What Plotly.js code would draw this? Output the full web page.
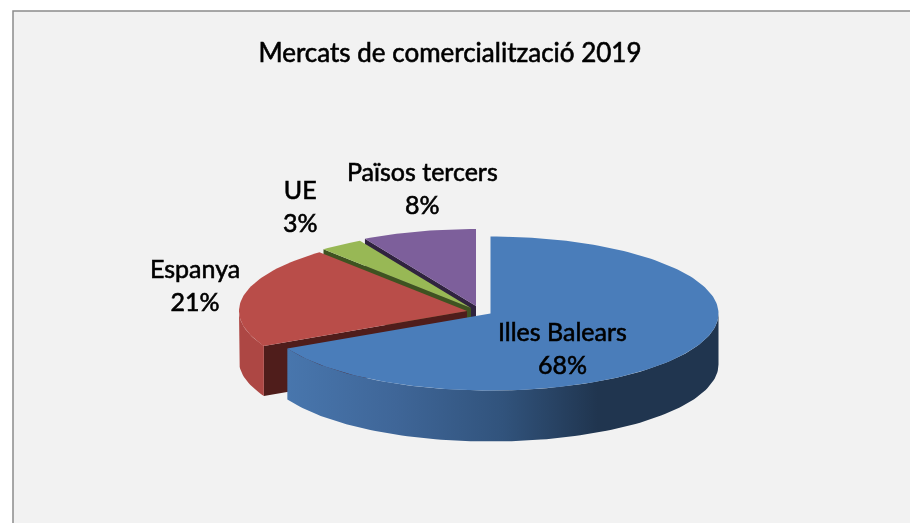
<!DOCTYPE html>
<html><head><meta charset="utf-8">
<script src="https://cdn.plot.ly/plotly-3.0.1.min.js"></script>
<style>html,body{margin:0;padding:0;background:#fff}#c{width:910px;height:523px;filter:blur(0.45px)}
.annotation-text,.gtitle{stroke:#000;stroke-width:0.6px}</style>
</head><body><div id="c"></div>
<script>
const chartTitle = "Mercats de comercialització 2019";
const categories = ["Illes Balears", "Espanya", "UE", "Països tercers"];
const values = [67.5, 21.3, 3.1, 8.1];
const topColors = ["#4a7dba", "#b94d49", "#98b855", "#7d5f9b"];
const cutWallColors = [null, "#4f1d1b", "#3f5321", "#30233f"];
const centerX = [490.5, 467, 471, 476];
const centerY = [313.5, 311, 308, 306];
const labelX = [562, 195, 300, 422];
const labelY = [347, 284, 205, 187];

const RX = 228, RY = 77, DEPTH = 51;
const total = values.reduce((a, b) => a + b, 0);
const rad = d => d * Math.PI / 180;
function pt(i, deg, drop) {
  return [centerX[i] + RX * Math.sin(rad(deg)), centerY[i] - RY * Math.cos(rad(deg)) + (drop || 0)];
}
function arc(i, from, to, drop) {
  const out = [], n = Math.max(2, Math.ceil(Math.abs(to - from) / 1.5));
  for (let k = 0; k <= n; k++) out.push(pt(i, from + (to - from) * k / n, drop));
  return out;
}
function poly(points, color, extra) {
  const pts = points.concat([points[0]]);
  return Object.assign({
    type: "scatter", mode: "lines", x: pts.map(p => p[0]), y: pts.map(p => p[1]),
    fill: "toself", fillcolor: color, line: { width: 0, color: color },
    hoverinfo: "skip", showlegend: false
  }, extra || {});
}
let start = [], acc = 0;
values.forEach(v => { start.push(acc); acc += v / total * 360; });
const endA = i => start[i] + values[i] / total * 360;

const traces = [];
// back slices first
[3, 2].forEach(i => {
  const c = [centerX[i], centerY[i]], s = pt(i, start[i]);
  traces.push(poly([c, s, [s[0], s[1] + DEPTH], [c[0], c[1] + DEPTH]], cutWallColors[i]));
  traces.push(poly([c].concat(arc(i, start[i], endA(i))), topColors[i]));
});
// Espanya
{
  const i = 1, c = [centerX[i], centerY[i]], s = pt(i, start[i]);
  traces.push(poly([c, s, [s[0], s[1] + DEPTH - 1], [c[0], c[1] + DEPTH - 1]], cutWallColors[i]));
  traces.push(poly(arc(i, start[i], 270, 0).concat(arc(i, 270, start[i], DEPTH - 1)), "#ad4744"));
  traces.push(poly([c].concat(arc(i, start[i], endA(i))), topColors[i]));
}
// Illes Balears
{
  const i = 0;
  traces.push(poly(arc(i, 90, endA(i), 0).concat(arc(i, endA(i), 90, DEPTH)), "#2b4a70", {
    fillgradient: {
      type: "horizontal",
      colorscale: [[0, "#4876ad"], [0.25, "#3f6698"], [0.5, "#31537c"], [0.72, "#20354f"], [1, "#20354f"]]
    }
  }));
  traces.push(poly([[centerX[i], centerY[i]]].concat(arc(i, start[i], endA(i))), topColors[i]));
}

const layout = {
  width: 910, height: 523,
  margin: { l: 0, r: 0, t: 0, b: 0, pad: 0 },
  paper_bgcolor: "#ffffff", plot_bgcolor: "rgba(0,0,0,0)",
  showlegend: false,
  title: { text: chartTitle, x: 450 / 910, xanchor: "center", y: 1 - 53 / 523, yanchor: "middle",
           font: { family: "Lato, sans-serif", size: 26, color: "#000000" } },
  xaxis: { range: [0, 910], visible: false, fixedrange: true, domain: [0, 1] },
  yaxis: { range: [523, 0], visible: false, fixedrange: true, domain: [0, 1] },
  shapes: [
    { type: "rect", layer: "below", xref: "x", yref: "y", x0: 13, x1: 912, y0: 11, y1: 526,
      fillcolor: "#f2f2f2", line: { color: "#8c8c8c", width: 1.5 } }
  ],
  annotations: categories.map((c, i) => ({
    xref: "x", yref: "y", x: labelX[i], y: labelY[i], xanchor: "center", yanchor: "middle",
    showarrow: false, align: "center",
    text: c + "<br>" + Math.round(values[i]) + "%",
    font: { family: "Lato, sans-serif", size: 25, color: "#000000" }
  }))
};
Plotly.newPlot("c", traces, layout, { displayModeBar: false, staticPlot: true });
</script>
</body></html>
